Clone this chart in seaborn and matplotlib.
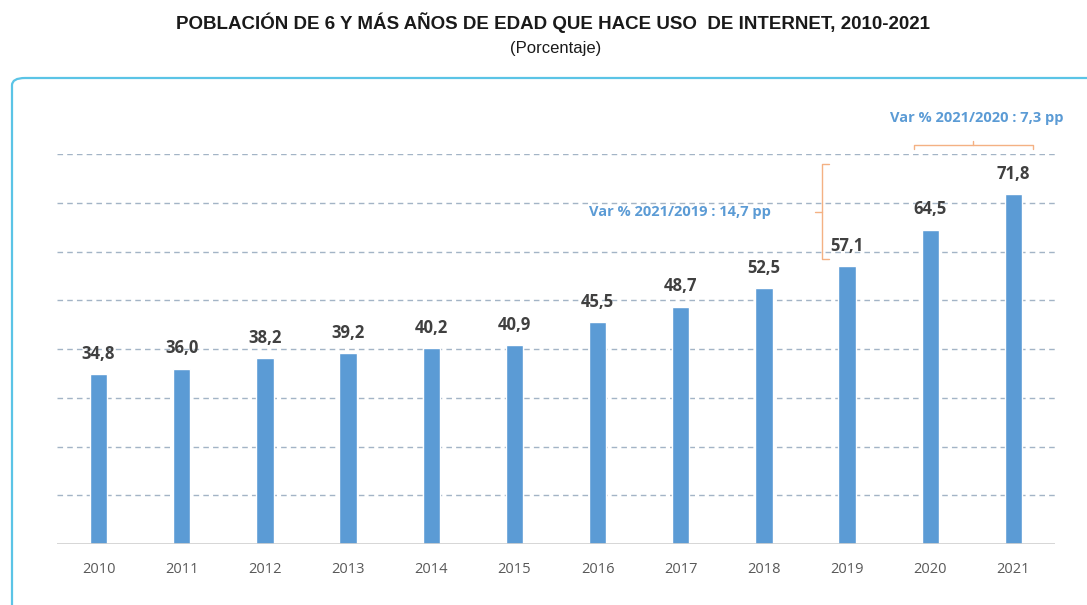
import numpy as np
import pandas as pd
import seaborn as sns
import matplotlib.pyplot as plt
from matplotlib.patches import FancyBboxPatch

years = ['2010', '2011', '2012', '2013', '2014', '2015',
         '2016', '2017', '2018', '2019', '2020', '2021']
pct = [34.8, 36.0, 38.2, 39.2, 40.2, 40.9, 45.5, 48.7, 52.5, 57.1, 64.5, 71.8]
labels = ['34,8', '36,0', '38,2', '39,2', '40,2', '40,9',
          '45,5', '48,7', '52,5', '57,1', '64,5', '71,8']
grid_vals = [10, 20, 30, 40, 50, 60, 70, 80]

bar_color = '#5b9bd5'
note_color = '#5b9bd5'
brace_color = '#f4b183'

sns.set_theme(style='white')
plt.rcParams['font.family'] = ['Open Sans', 'DejaVu Sans']

df = pd.DataFrame({'year': years, 'pct': pct})

fig = plt.figure(figsize=(10.87, 6.05), dpi=100)
ax = fig.add_axes([57 / 1087, 1 - 544 / 605, 998 / 1087, (544 - 154) / 605])

sns.barplot(data=df, x='year', y='pct', color=bar_color, width=0.21,
            saturation=1, ax=ax, zorder=3)

ax.set_xlim(-0.5, 11.5)
ax.set_ylim(0, 80)
for g in grid_vals:
    ax.axhline(g, color='#a3b4c6', lw=1.0, ls=(0, (4, 3)), zorder=1)
ax.axhline(0, color='#d0d0d0', lw=1.2, zorder=4)

for i, (v, t) in enumerate(zip(pct, labels)):
    ax.annotate(t, (i, v), xytext=(0, 8), textcoords='offset points',
                ha='center', va='bottom', fontsize=12, fontweight='bold',
                color='#404040', zorder=5)

ax.set_xlabel('')
ax.set_ylabel('')
ax.set_yticks([])
ax.tick_params(axis='x', length=0, pad=13, labelsize=10.5, labelcolor='#595959')
sns.despine(ax=ax, left=True, bottom=True)

# horizontal brace 2020-2021
yb = 81.9
ax.plot([9.80, 9.80, 11.24, 11.24], [yb - 0.9, yb, yb, yb - 0.9],
        color=brace_color, lw=1.0, clip_on=False)
ax.plot([10.52, 10.52], [yb, yb + 0.8], color=brace_color, lw=1.0, clip_on=False)
ax.text(10.56, 87.4, 'Var % 2021/2020 : 7,3 pp', ha='center', va='center',
        fontsize=10.5, fontweight='bold', color=note_color)

# vertical brace 2019-2021
xb = 8.7
ax.plot([xb + 0.08, xb, xb, xb + 0.08], [77.9, 77.9, 58.5, 58.5],
        color=brace_color, lw=1.0, clip_on=False)
ax.plot([xb - 0.08, xb], [68.2, 68.2], color=brace_color, lw=1.0)
ax.text(6.99, 68.2, 'Var % 2021/2019 : 14,7 pp', ha='center', va='center',
        fontsize=10.5, fontweight='bold', color=note_color)

# rounded frame around the chart
frame = FancyBboxPatch((12 / 1087, -0.1), 1.2, 0.1 + 1 - 78 / 605,
                       boxstyle='round,pad=0,rounding_size=0.012',
                       transform=fig.transFigure, fill=False,
                       edgecolor='#5bc4e6', lw=1.6, zorder=0)
fig.patches.append(frame)

fig.text(0.509, 1 - 23 / 605,
         'POBLACIÓN DE 6 Y MÁS AÑOS DE EDAD QUE HACE USO  DE INTERNET, 2010-2021',
         ha='center', va='center', fontsize=13.5, fontweight='bold',
         color='#1a1a1a', family=['Liberation Sans', 'DejaVu Sans'])
fig.text(0.511, 1 - 49 / 605, '(Porcentaje)', ha='center', va='center',
         fontsize=12, color='#1a1a1a',
         family=['Liberation Sans', 'DejaVu Sans'])

fig.savefig('out.png', dpi=100)
